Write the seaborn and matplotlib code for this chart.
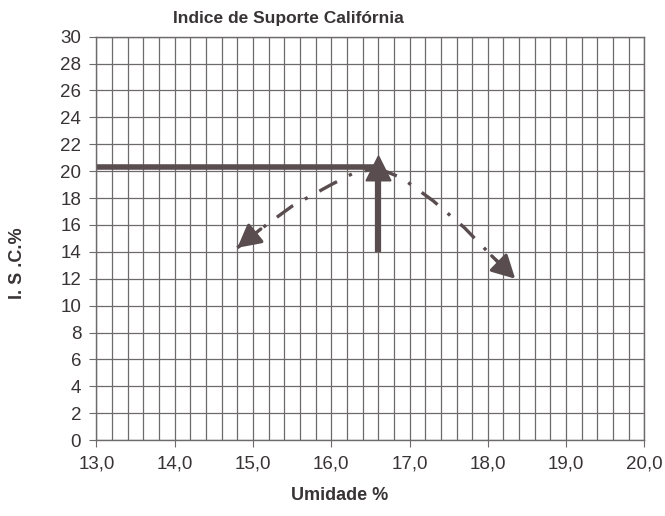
import numpy as np
import pandas as pd
import matplotlib
matplotlib.use("Agg")
import matplotlib.pyplot as plt
import seaborn as sns

# Curve (umidade %, I.S.C. %)
umidade = [14.8, 15.1, 15.5, 16.0, 16.3, 16.6, 16.9, 17.3, 17.7, 18.05, 18.35]
isc = [14.3, 15.7, 17.4, 19.0, 19.9, 20.2, 19.5, 17.8, 15.8, 13.7, 12.0]

# Optimum point and reference lines
umidade_otima = 16.6
isc_otimo = 20.3
isc_base = 14.0

x_ticks = [13.0, 14.0, 15.0, 16.0, 17.0, 18.0, 19.0, 20.0]
y_ticks = list(range(0, 31, 2))

ink = "#5a4d4f"
grid_col = "#6e6a6b"
txt = "#383334"

sns.set_style("white")
plt.rcParams['font.family'] = ['Liberation Sans', 'DejaVu Sans']

fig = plt.figure(figsize=(6.65, 5.16), dpi=100)
ax = fig.add_axes([0.145, 0.147, 0.824, 0.782])

df = pd.DataFrame({"Umidade": umidade, "ISC": isc})

# Dash-dot curve, split at the optimum
i_top = umidade.index(umidade_otima)
left = df.iloc[:i_top + 1]
right = df.iloc[i_top:]
for part in (left, right):
    sns.lineplot(data=part, x="Umidade", y="ISC", ax=ax, color=ink, lw=2.4,
                 linestyle=(0, (6, 4, 1, 4)), sort=False)

# Arrow heads at both ends
for a, b in [(1, 0), (-2, -1)]:
    ax.annotate("", xy=(umidade[b], isc[b]), xytext=(umidade[a], isc[a]),
                arrowprops=dict(arrowstyle="-|>,head_length=1.4,head_width=0.75",
                                color=ink, lw=2.4, shrinkA=0, shrinkB=0))

# Horizontal and vertical lines at the optimum
ax.plot([13.0, umidade_otima], [isc_otimo, isc_otimo], color=ink, lw=4, solid_capstyle="butt")
ax.plot([umidade_otima, umidade_otima], [isc_otimo, isc_base], color=ink, lw=4.5, solid_capstyle="butt")
sns.scatterplot(x=[umidade_otima], y=[isc_otimo - 0.1], ax=ax, marker="^", s=300,
                color=ink, edgecolor=ink, zorder=5)

ax.set_xlim(13.0, 20.0)
ax.set_ylim(0, 30)
ax.set_xticks(x_ticks)
ax.set_xticklabels([f"{v:.1f}".replace(".", ",") for v in x_ticks])
ax.set_yticks(y_ticks)
ax.set_xticks(np.arange(13.0, 20.01, 0.2), minor=True)
ax.grid(True, which="major", color=grid_col, lw=0.9)
ax.grid(True, which="minor", axis="x", color=grid_col, lw=0.9)
ax.tick_params(axis="both", which="major", labelsize=13.5, length=5, direction="out",
               color=grid_col, labelcolor=txt, left=True, bottom=True)
ax.tick_params(axis="y", pad=6)
ax.tick_params(axis="x", pad=6)
ax.tick_params(axis="x", which="minor", length=0)
for s in ax.spines.values():
    s.set_color(grid_col)
    s.set_linewidth(1.0)
ax.set_xlabel("")
ax.set_ylabel("")

fig.text(0.433, 0.965, "Indice de Suporte Califórnia", fontsize=12.5,
         fontweight="bold", color=txt, ha="center", va="center")
fig.text(0.51, 0.039, "Umidade %", fontsize=13, fontweight="bold",
         color=txt, ha="center", va="center")
fig.text(0.027, 0.49, "I. S .C.%", fontsize=13, fontweight="bold",
         color=txt, ha="center", va="center", rotation=90)

fig.savefig("out.png", dpi=100)
plt.close()
